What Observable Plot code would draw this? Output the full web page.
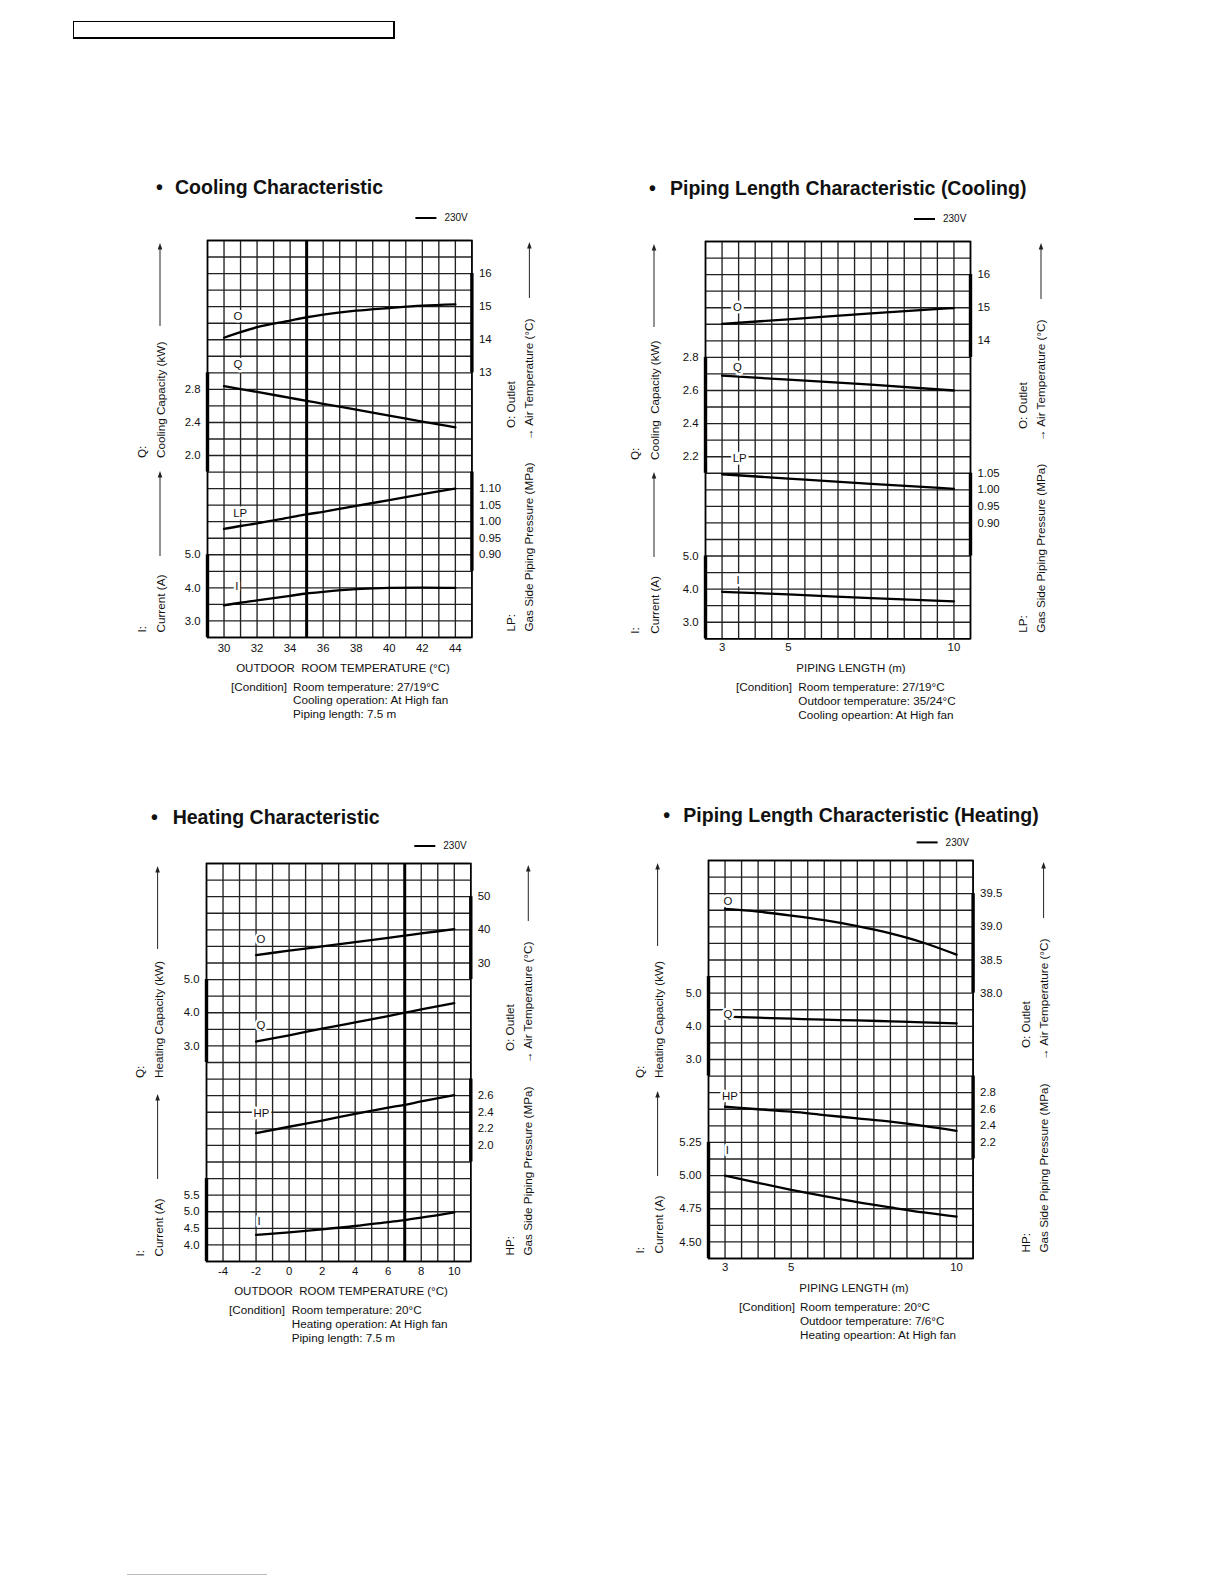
<!DOCTYPE html>
<html><head><meta charset="utf-8">
<script src="https://cdn.jsdelivr.net/npm/d3@7"></script>
<script src="https://cdn.jsdelivr.net/npm/@observablehq/plot@0.6"></script>
<style>
body{margin:0;background:#fff;}
#page{position:relative;width:1224px;height:1584px;overflow:hidden;background:#fff;font-family:"Liberation Sans",Arial,sans-serif;color:#111;}
.abs{position:absolute;white-space:pre;}
.title{font-weight:bold;font-size:19.5px;line-height:24px;}
.small{font-size:11.7px;line-height:14px;}
.axt{font-size:11.5px;line-height:14px;text-align:center;width:400px;}
</style></head><body><div id="page"></div>
<script>
const FONT = '"Liberation Sans", Arial, sans-serif';

// ---------- Cooling Characteristic (x: outdoor room temperature, °C) ----------
const coolTemp        = [30, 31, 32, 34, 35, 36, 38, 40, 42, 44];
const coolOutlet      = [14.06, 14.23, 14.38, 14.58, 14.68, 14.76, 14.88, 14.96, 15.03, 15.07];
const coolCapacity    = [2.84, 2.804, 2.769, 2.697, 2.661, 2.626, 2.554, 2.483, 2.411, 2.34];
const coolLP          = [0.978, 0.987, 0.995, 1.013, 1.022, 1.030, 1.048, 1.065, 1.083, 1.100];
const coolCurrent     = [3.47, 3.55, 3.62, 3.76, 3.83, 3.88, 3.96, 4.00, 4.01, 4.00];
const coolTempTicks   = [30, 32, 34, 36, 38, 40, 42, 44];
const coolOutletTicks = [16, 15, 14, 13];
const coolCapTicks    = [2.8, 2.4, 2.0];
const coolLPTicks     = [1.10, 1.05, 1.00, 0.95, 0.90];
const coolCurTicks    = [5.0, 4.0, 3.0];

// ---------- Piping Length Characteristic (Cooling) (x: piping length, m) ----------
const pcLength        = [3, 5, 7.5, 10];
const pcOutlet        = [14.51, 14.65, 14.83, 14.99];
const pcCapacity      = [2.69, 2.665, 2.635, 2.60];
const pcLP            = [1.047, 1.034, 1.018, 1.003];
const pcCurrent       = [3.92, 3.84, 3.73, 3.63];
const pipeTicks       = [3, 5, 10];
const pcOutletTicks   = [16, 15, 14];
const pcCapTicks      = [2.8, 2.6, 2.4, 2.2];
const pcLPTicks       = [1.05, 1.00, 0.95, 0.90];
const pcCurTicks      = [5.0, 4.0, 3.0];

// ---------- Heating Characteristic (x: outdoor room temperature, °C) ----------
const heatTemp        = [-2, 0, 2, 4, 6, 7, 8, 10];
const heatOutlet      = [32.4, 33.7, 35.0, 36.3, 37.6, 38.25, 38.9, 40.2];
const heatCapacity    = [3.13, 3.32, 3.52, 3.71, 3.90, 4.00, 4.10, 4.29];
const heatHP          = [2.148, 2.225, 2.30, 2.38, 2.455, 2.49, 2.53, 2.606];
const heatCurrent     = [4.30, 4.38, 4.47, 4.57, 4.69, 4.75, 4.82, 4.98];
const heatTempTicks   = [-4, -2, 0, 2, 4, 6, 8, 10];
const heatOutletTicks = [50, 40, 30];
const heatCapTicks    = [5.0, 4.0, 3.0];
const heatHPTicks     = [2.6, 2.4, 2.2, 2.0];
const heatCurTicks    = [5.5, 5.0, 4.5, 4.0];

// ---------- Piping Length Characteristic (Heating) (x: piping length, m) ----------
const phLength        = [3, 4, 5, 6, 7, 8, 9, 10];
const phOutlet        = [39.27, 39.23, 39.17, 39.10, 39.01, 38.90, 38.76, 38.58];
const phCapacity      = [4.29, 4.26, 4.23, 4.20, 4.18, 4.15, 4.12, 4.09];
const phHP            = [2.63, 2.60, 2.57, 2.53, 2.49, 2.45, 2.40, 2.34];
const phCurrent       = [5.00, 4.945, 4.893, 4.845, 4.80, 4.76, 4.722, 4.69];
const phOutletTicks   = [39.5, 39.0, 38.5, 38.0];
const phCapTicks      = [5.0, 4.0, 3.0];
const phHPTicks       = [2.8, 2.6, 2.4, 2.2];
const phCurTicks      = [5.25, 5.00, 4.75, 4.50];

// ---------- panel layout ----------
const panels = [
  {
    title: "Cooling Characteristic", bullet: [160, 187], titleAt: [175, 187],
    gL: 207.3, gT: 240, gW: 264.4, gH: 397, xDomain: [29, 45], thickX: 35,
    x: coolTemp, xTicks: coolTempTicks, xTickDy: 11, legendDy: -22,
    axes: [
      {side: "right", ticks: coolOutletTicks, rows: [2, 8], bar: [2, 8], digits: 0, values: coolOutlet, label: {text: "O", x: 30.84, row: 4.58}},
      {side: "left",  ticks: coolCapTicks, rows: [9, 13], bar: [8, 14], digits: 1, values: coolCapacity, label: {text: "Q", x: 30.84, row: 7.46}},
      {side: "right", ticks: coolLPTicks, rows: [15, 19], bar: [14, 20], digits: 2, values: coolLP, label: {text: "LP", x: 30.98, row: 16.49}},
      {side: "left",  ticks: coolCurTicks, rows: [19, 23], bar: [19, 24], digits: 1, values: coolCurrent, label: {text: "I", x: 30.78, row: 20.92}}
    ],
    side: {lcols: [-65, -46], rcols: [40, 58], q: "Cooling Capacity (kW)", p: "LP:", t1: 218},
    xTitle: "OUTDOOR  ROOM TEMPERATURE (\u00b0C)", xTitleAt: [343, 668],
    cond: {x0: 231, x1: 293, ys: [686.7, 700.3, 714], lines: ["Room temperature: 27/19\u00b0C", "Cooling operation: At High fan", "Piping length: 7.5 m"]}
  },
  {
    title: "Piping Length Characteristic (Cooling)", bullet: [653, 188.3], titleAt: [670, 188.3],
    gL: 705, gT: 241, gW: 265, gH: 397.3, xDomain: [2.5, 10.5], thickX: null,
    x: pcLength, xTicks: pipeTicks, xTickDy: 9, legendDy: -22,
    axes: [
      {side: "right", ticks: pcOutletTicks, rows: [2, 6], bar: [2, 7], digits: 0, values: pcOutlet, label: {text: "O", x: 3.46, row: 3.97}},
      {side: "left",  ticks: pcCapTicks, rows: [7, 13], bar: [7, 14], digits: 1, values: pcCapacity, label: {text: "Q", x: 3.46, row: 7.6}},
      {side: "right", ticks: pcLPTicks, rows: [14, 17], bar: [14, 19], digits: 2, values: pcLP, label: {text: "LP", x: 3.53, row: 13.07}},
      {side: "left",  ticks: pcCurTicks, rows: [19, 23], bar: [19, 24], digits: 1, values: pcCurrent, label: {text: "I", x: 3.48, row: 20.44}}
    ],
    side: {lcols: [-70, -50], rcols: [53, 71], q: "Cooling  Capacity (kW)", p: "LP:", t1: 219},
    xTitle: "PIPING LENGTH (m)", xTitleAt: [851, 668.3],
    cond: {x0: 736, x1: 798.3, ys: [687.3, 700.7, 715], lines: ["Room temperature: 27/19\u00b0C", "Outdoor temperature: 35/24\u00b0C", "Cooling opeartion: At High fan"]}
  },
  {
    title: "Heating Characteristic", bullet: [155, 817.3], titleAt: [172.7, 817.3],
    gL: 205.7, gT: 862.7, gW: 264.3, gH: 398, xDomain: [-5, 11], thickX: 7,
    x: heatTemp, xTicks: heatTempTicks, xTickDy: 10, legendDy: -17,
    axes: [
      {side: "right", ticks: heatOutletTicks, rows: [2, 6], bar: [2, 7], digits: 0, values: heatOutlet, label: {text: "O", x: -1.71, row: 4.6}},
      {side: "left",  ticks: heatCapTicks, rows: [7, 11], bar: [7, 12], digits: 1, values: heatCapacity, label: {text: "Q", x: -1.71, row: 9.75}},
      {side: "right", ticks: heatHPTicks, rows: [14, 17], bar: [13, 18], digits: 1, values: heatHP, label: {text: "HP", x: -1.67, row: 15.05}},
      {side: "left",  ticks: heatCurTicks, rows: [20, 23], bar: [19, 24], digits: 1, values: heatCurrent, label: {text: "I", x: -1.82, row: 21.55}}
    ],
    side: {lcols: [-65.7, -47.4], rcols: [40, 58], q: "Heating Capacity (kW)", p: "HP:", t1: 215},
    xTitle: "OUTDOOR  ROOM TEMPERATURE (\u00b0C)", xTitleAt: [341, 1291],
    cond: {x0: 229, x1: 291.7, ys: [1310, 1324.3, 1338], lines: ["Room temperature: 20\u00b0C", "Heating operation: At High fan", "Piping length: 7.5 m"]}
  },
  {
    title: "Piping Length Characteristic (Heating)", bullet: [667.3, 815], titleAt: [683.3, 815],
    gL: 707.7, gT: 860.3, gW: 264.6, gH: 398, xDomain: [2.5, 10.5], thickX: null,
    x: phLength, xTicks: pipeTicks, xTickDy: 9, legendDy: -17.6,
    axes: [
      {side: "right", ticks: phOutletTicks, rows: [2, 8], bar: [2, 8], digits: 1, values: phOutlet, label: {text: "O", x: 3.09, row: 2.44}},
      {side: "left",  ticks: phCapTicks, rows: [8, 12], bar: [7, 13], digits: 1, values: phCapacity, label: {text: "Q", x: 3.09, row: 9.27}},
      {side: "right", ticks: phHPTicks, rows: [14, 17], bar: [13, 18], digits: 1, values: phHP, label: {text: "HP", x: 3.15, row: 14.22}},
      {side: "left",  ticks: phCurTicks, rows: [17, 23], bar: [17, 24], digits: 2, values: phCurrent, label: {text: "I", x: 3.07, row: 17.47}}
    ],
    side: {lcols: [-68.4, -49.4], rcols: [53, 71], q: "Heating Capacity (kW)", p: "HP:", t1: 218},
    xTitle: "PIPING LENGTH (m)", xTitleAt: [854, 1288.3],
    cond: {x0: 739, x1: 800, ys: [1307.3, 1320.7, 1335], lines: ["Room temperature: 20\u00b0C", "Outdoor temperature: 7/6\u00b0C", "Heating opeartion: At High fan"]}
  }
];

const page = document.getElementById("page");
function addDiv(cls, text, left, top, extra) {
  const d = document.createElement("div");
  d.className = "abs " + cls;
  d.textContent = text;
  d.style.left = left + "px";
  d.style.top = top + "px";
  if (extra) Object.assign(d.style, extra);
  page.appendChild(d);
  return d;
}

// header box and footer rule
addDiv("", "", 73, 21, {width: "319px", height: "15px", border: "1px solid #000", borderRightWidth: "2.5px", borderBottomWidth: "2px"});
addDiv("", "", 127, 1574, {width: "140px", height: "0", borderTop: "1px solid #bbb"});

const mL = 95, mR = 95, mT = 30, mB = 22;

function decor(p) {
  const gL = mL, gT = mT, gR = mL + p.gW, gB = mT + p.gH;
  const s = p.side;
  return () => {
    const g = d3.create("svg:g").attr("font-family", FONT).attr("font-size", 11.7)
      .attr("fill", "#111").attr("text-anchor", "start");
    // legend
    const ly = gT + p.legendDy;
    g.append("line").attr("x1", gR - 56).attr("x2", gR - 35).attr("y1", ly).attr("y2", ly).attr("stroke", "#000").attr("stroke-width", 2);
    g.append("text").attr("x", gR - 27).attr("y", ly).attr("dy", "0.35em").attr("font-size", 10).text("230V");
    const vtext = (x, yb, t) => g.append("text").attr("text-anchor", "start")
      .attr("transform", `translate(${x},${yb}) rotate(-90)`).attr("dy", "0.35em").text(t);
    const arrow = (x, yTop, yBot) => {
      g.append("line").attr("x1", x).attr("x2", x).attr("y1", yTop + 5).attr("y2", yBot).attr("stroke", "#222").attr("stroke-width", 1);
      g.append("path").attr("d", `M${x},${yTop}L${x - 2.3},${yTop + 6.5}L${x + 2.3},${yTop + 6.5}Z`).attr("fill", "#222");
    };
    // left side
    const [lc0, lc1] = s.lcols;
    arrow(gL + lc1 - 1, gT + 3, gT + 86);
    vtext(gL + lc0, gT + s.t1, "Q:");
    vtext(gL + lc1, gT + s.t1, s.q);
    arrow(gL + lc1 - 1, gT + 231, gT + 316);
    vtext(gL + lc0, gB - 4.5, "I:");
    vtext(gL + lc1, gB - 4.5, "Current (A)");
    // right side
    const [rc0, rc1] = s.rcols;
    arrow(gR + rc1, gT + 2, gT + 58);
    vtext(gR + rc0, gT + 188, "O: Outlet");
    vtext(gR + rc1, gT + 200, "\u2192 Air Temperature (\u00b0C)");
    vtext(gR + rc0, gB - 5.5, s.p);
    vtext(gR + rc1, gB - 5.5, "Gas Side Piping Pressure (MPa)");
    return g.node();
  };
}

for (const p of panels) {
  const [x0, x1] = p.xDomain;
  const W = p.gW + mL + mR, H = p.gH + mT + mB;
  const cols = d3.range(17).map(k => x0 + k * (x1 - x0) / 16);
  const rows = d3.range(25);
  const marks = [
    Plot.ruleY(rows, {x1: x0, x2: x1, stroke: "#222", strokeWidth: 1.35}),
    Plot.ruleX(cols, {y1: 0, y2: 24, stroke: "#222", strokeWidth: 1.35}),
    Plot.frame({stroke: "#000", strokeWidth: 1.6})
  ];
  if (p.thickX != null) marks.push(Plot.ruleX([p.thickX], {y1: 0, y2: 24, stroke: "#000", strokeWidth: 3}));
  for (const a of p.axes) {
    const toRow = d3.scaleLinear().domain([a.ticks[0], a.ticks[a.ticks.length - 1]]).range(a.rows);
    const edge = a.side === "left" ? x0 : x1;
    marks.push(Plot.ruleX([edge], {y1: a.bar[0], y2: a.bar[1], stroke: "#000", strokeWidth: 3.4}));
    marks.push(Plot.text(a.ticks, {
      x: edge, y: d => toRow(d), text: d => d.toFixed(a.digits),
      textAnchor: a.side === "left" ? "end" : "start", dx: a.side === "left" ? -7 : 7,
      fontSize: 11.4, fill: "#111"
    }));
    const line = p.x.map((xv, i) => ({x: xv, row: toRow(a.values[i])}));
    marks.push(Plot.line(line, {x: "x", y: "row", stroke: "#000", strokeWidth: 2.3, curve: "monotone-x"}));
    marks.push(Plot.text([a.label], {x: "x", y: "row", text: "text", fontSize: 11.4, fill: "#111", stroke: "#fff", strokeWidth: 5}));
  }
  marks.push(Plot.text(p.xTicks, {x: d => d, y: 24, dy: p.xTickDy, text: d => String(d), fontSize: 11.4, fill: "#111"}));
  marks.push(decor(p));

  const chart = Plot.plot({
    width: W, height: H,
    marginLeft: mL, marginRight: mR, marginTop: mT, marginBottom: mB,
    x: {domain: p.xDomain, axis: null},
    y: {domain: [24, 0], axis: null},
    style: {fontFamily: FONT, fontSize: "11px", background: "transparent", overflow: "visible"},
    marks
  });
  const holder = document.createElement("div");
  holder.className = "abs";
  holder.style.left = (p.gL - mL) + "px";
  holder.style.top = (p.gT - mT) + "px";
  holder.style.width = W + "px";
  holder.appendChild(chart);
  page.appendChild(holder);

  addDiv("title", "\u2022", p.bullet[0] - 4, p.bullet[1] - 12);
  addDiv("title", p.title, p.titleAt[0], p.titleAt[1] - 12);
  addDiv("axt", p.xTitle, p.xTitleAt[0] - 200, p.xTitleAt[1] - 7);
  addDiv("small", "[Condition]", p.cond.x0, p.cond.ys[0] - 7);
  p.cond.lines.forEach((t, i) => addDiv("small", t, p.cond.x1, p.cond.ys[i] - 7));
}
</script>
</body></html>
